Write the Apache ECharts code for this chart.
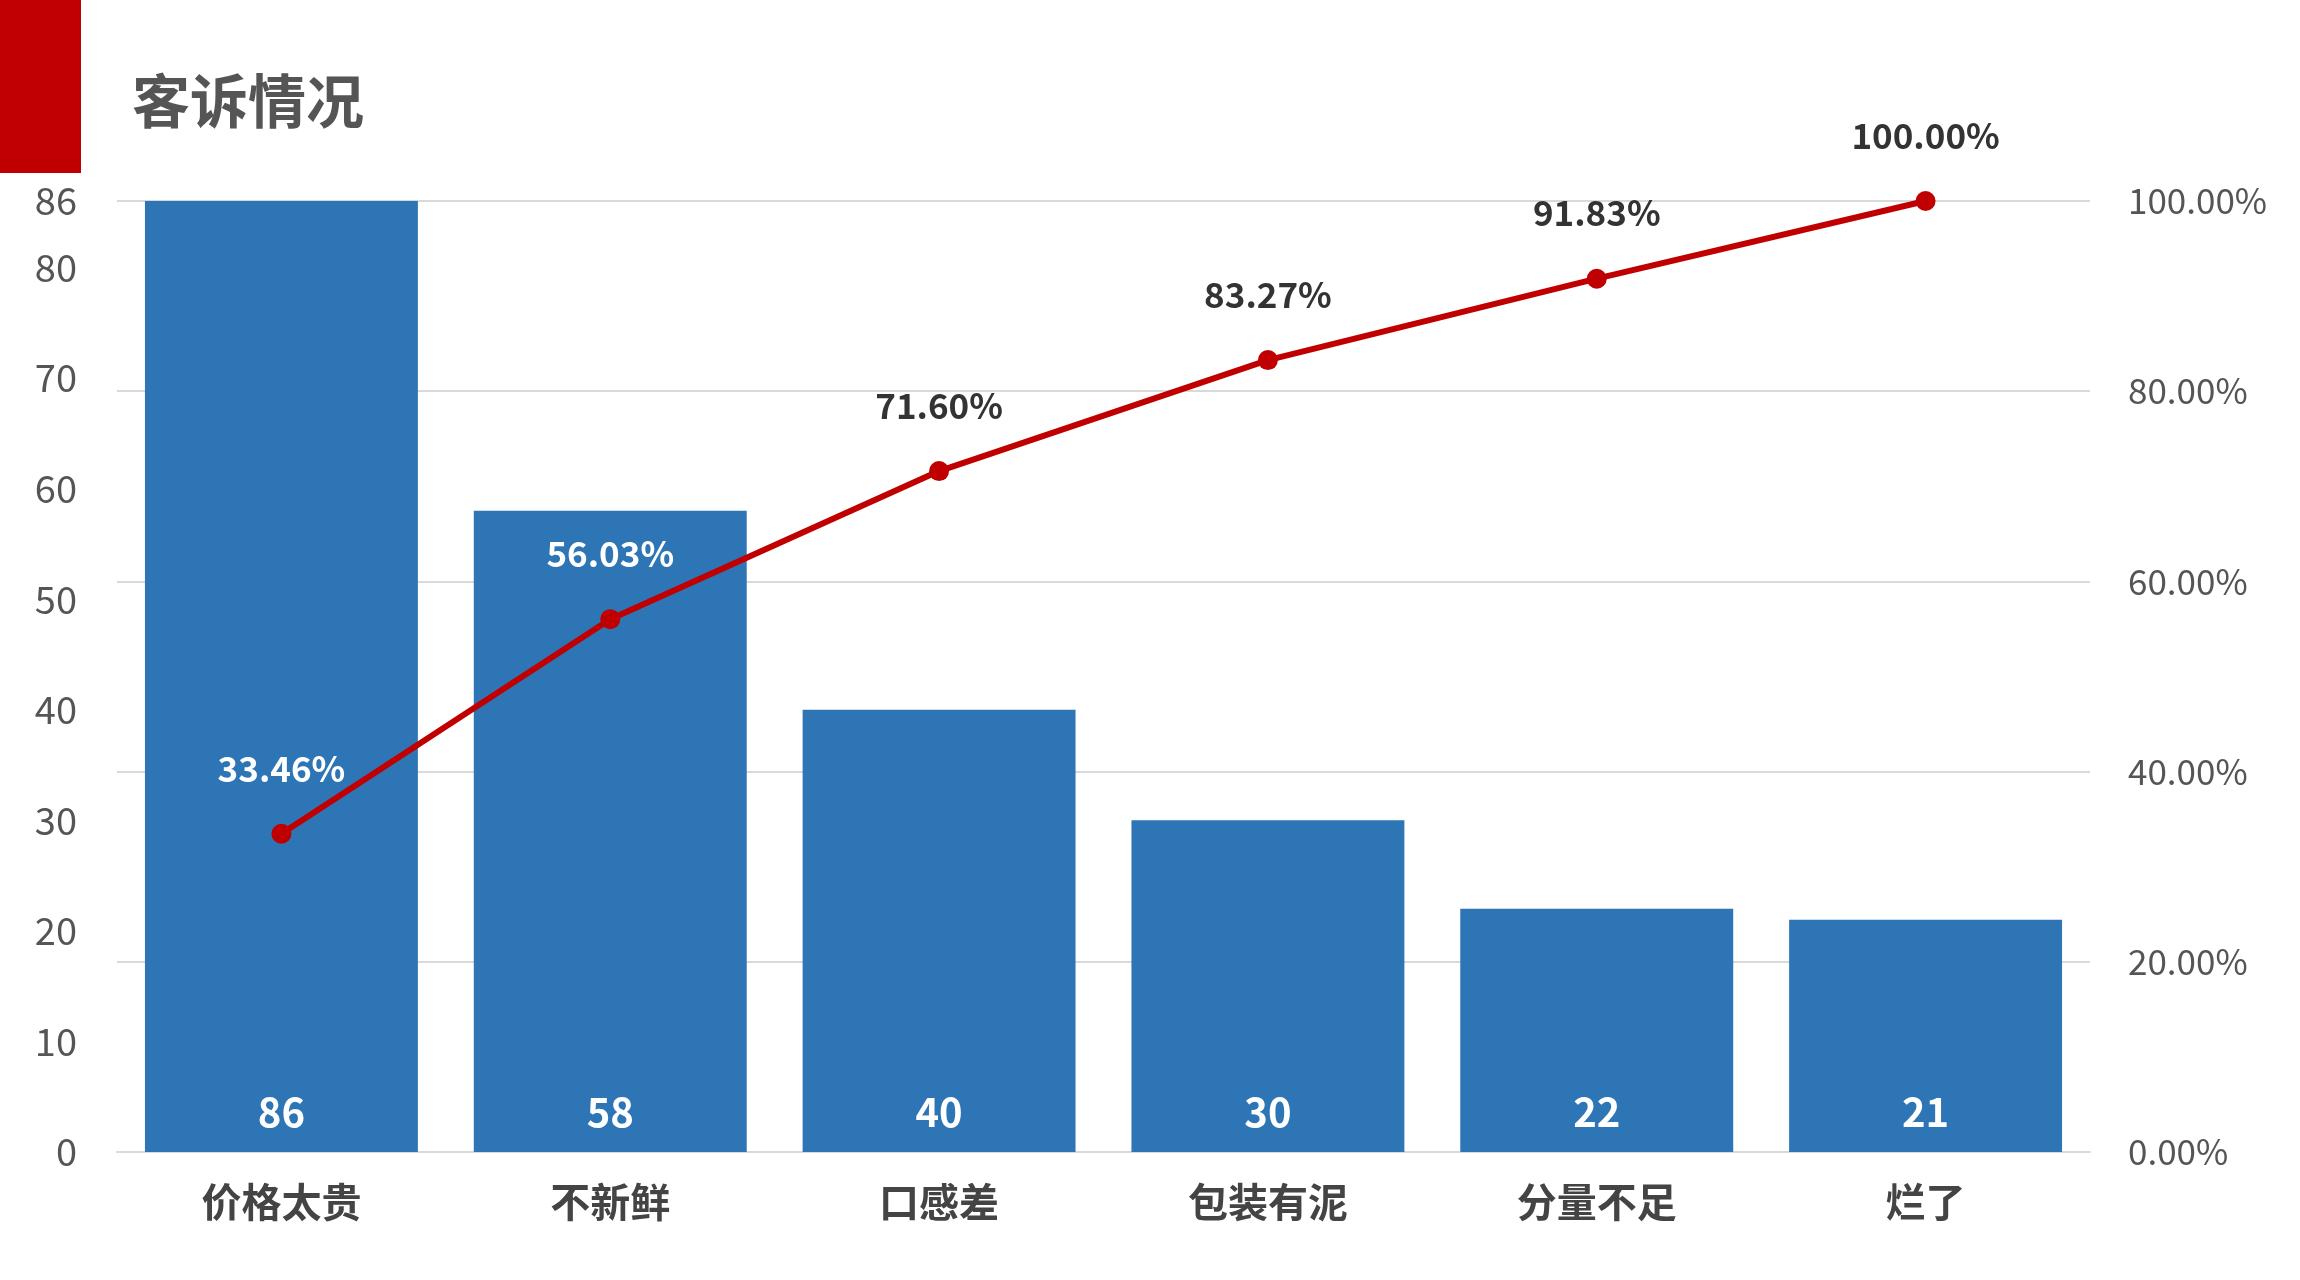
<!DOCTYPE html>
<html>
<head>
<meta charset="utf-8">
<script src="https://cdn.jsdelivr.net/npm/echarts@6/dist/echarts.min.js"></script>
<style>
  html, body { margin: 0; padding: 0; background: #fff; }
  #chart { width: 2300px; height: 1280px; }
</style>
</head>
<body>
<div id="chart"></div>
<script>
const categories = ['价格太贵', '不新鲜', '口感差', '包装有泥', '分量不足', '烂了']
const counts = [86, 58, 40, 30, 22, 21]
const cumulative = [33.46, 56.03, 71.60, 83.27, 91.83, 100.00]
// first two labels sit over the bars, so they are white
const lineLabelColors = ['#ffffff', '#ffffff', '#333333', '#333333', '#333333', '#333333']

const font = '"Microsoft YaHei", "Noto Sans CJK SC", sans-serif'
const myChart = echarts.init(document.getElementById('chart'))

const option = {
  textStyle: { fontFamily: font },
  graphic: [
    { type: 'rect', left: 0, top: 0, shape: { width: 81, height: 173 }, style: { fill: '#C00000' } },
    { type: 'text', left: 132, top: 72, style: { text: '客诉情况', fontSize: 58, fontWeight: 'bold', fill: '#555555', fontFamily: font } },
  ],
  grid: { left: 117, right: 210, top: 201, bottom: 128 },
  xAxis: {
    type: 'category',
    data: categories,
    axisTick: { show: false },
    axisLine: { lineStyle: { color: '#d9d9d9', width: 2 } },
    axisLabel: { fontSize: 40, color: '#444', fontWeight: 'bold', margin: 30 },
  },
  yAxis: [
    {
      type: 'value', min: 0, max: 86, interval: 10,
      splitLine: { show: false },
      axisLine: { show: false }, axisTick: { show: false },
      axisLabel: { fontSize: 38, color: '#555', margin: 40 },
    },
    {
      type: 'value', min: 0, max: 100, interval: 20,
      splitLine: { lineStyle: { color: '#d9d9d9', width: 2 } },
      axisLine: { show: false }, axisTick: { show: false },
      axisLabel: { fontSize: 35, color: '#555', margin: 38, formatter: v => v.toFixed(2) + '%' },
    },
  ],
  series: [
    {
      type: 'bar',
      data: counts,
      barCategoryGap: '17%',
      itemStyle: { color: '#2E75B6' },
      label: {
        show: true, position: 'insideBottom', distance: 20,
        color: '#fff', fontSize: 40, fontWeight: 'bold',
      },
    },
    {
      type: 'line',
      yAxisIndex: 1,
      data: cumulative.map((v, i) => ({
        value: v,
        label: { color: lineLabelColors[i] },
      })),
      symbol: 'circle', symbolSize: 20,
      lineStyle: { color: '#C00000', width: 6 },
      itemStyle: { color: '#C00000' },
      label: {
        show: true, position: 'top', distance: 38,
        fontSize: 35, fontWeight: 'bold',
        formatter: p => p.value.toFixed(2) + '%',
      },
    },
  ],
}
myChart.setOption(option, true)
</script>
</body>
</html>
